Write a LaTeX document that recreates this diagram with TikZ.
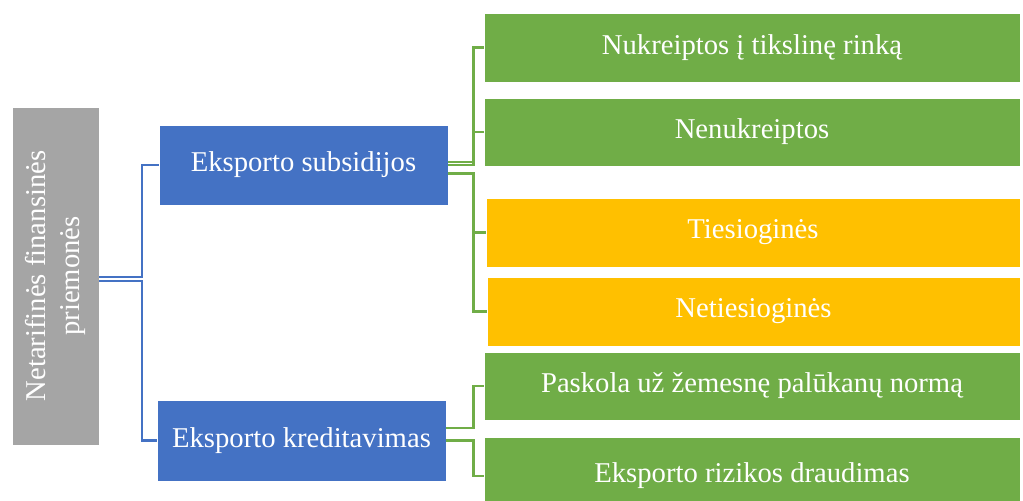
\documentclass[tikz,border=0pt]{standalone}
\usepackage{fontspec}
\setmainfont{Liberation Serif}
\usepackage{xcolor}
\usepackage{tikz}
\definecolor{rootgray}{RGB}{165, 165, 165}
\definecolor{levelblue}{RGB}{68, 114, 196}
\definecolor{leafgreen}{RGB}{112, 173, 71}
\definecolor{leaforange}{RGB}{255, 192, 0}

\begin{document}
\begin{tikzpicture}[
  x=0.75pt, y=-0.75pt,
  box/.style={rectangle, draw=white, line width=0.6pt, text=white, align=center,
              inner sep=0pt, font=\fontsize{21.5}{25}\selectfont},
  rootbox/.style={box, fill=rootgray, rotate=90, minimum width=253.5pt, minimum height=65.25pt},
  midbox/.style={box, fill=levelblue, minimum width=216.75pt, minimum height=60pt},
  leafbox/.style={box, fill=leafgreen, minimum width=402pt, minimum height=51.75pt},
  altbox/.style={leafbox, fill=leaforange},
  blueline/.style={draw=levelblue, line width=1.9pt},
  greenline/.style={draw=leafgreen, line width=1.9pt}
]
\useasboundingbox (0,0) rectangle (1023,500);
\clip (0,0) rectangle (1023,500);

\node[rootbox] (root) at (55.5,276) {Netarifinės finansinės\\priemonės};

\node[midbox] (subs) at (303.5,165) {Eksporto subsidijos};
\node[midbox, minimum height=60.75pt] (kred) at (301.5,440.5) {Eksporto kreditavimas};

\node[leafbox] (tiks) at (752,47.5) {Nukreiptos į tikslinę rinką};
\node[leafbox, minimum height=51pt] (nenuk) at (752,132) {Nenukreiptos};
\node[altbox, minimum width=400.5pt] (ties) at (753,232.5) {Tiesioginės};
\node[altbox, minimum width=399.75pt] (neties) at (753.5,311.5) {Netiesioginės};
\node[leafbox, minimum height=51pt] (pask) at (752,386) {Paskola už žemesnę palūkanų normą};
\node[leafbox, minimum height=58.5pt] (draud) at (752,476) {Eksporto rizikos draudimas};

% root to second level
\draw[blueline] ([yshift=-0.8pt]root.south) -- ++(42.5,0) |- (subs.west);
\draw[blueline] ([yshift=-3.6pt]root.south) -- ++(42.5,0) |- (kred.west);

% second level to leaves
\draw[greenline] ([yshift=2.25pt]subs.east) -- ++(25,0) |- (tiks.west);
\draw[greenline] (subs.east) -- ++(25,0) |- (nenuk.west);
\draw[greenline] ([yshift=-6.4pt]subs.east) -- ++(25,0) |- (ties.west);
\draw[greenline] ([yshift=-6.4pt]subs.east) -- ++(25,0) |- (neties.west);
\draw[greenline] ([yshift=9.4pt]kred.east) -- ++(27,0) |- (pask.west);
\draw[greenline] (kred.east) -- ++(27,0) |- (draud.west);

\end{tikzpicture}
\end{document}
